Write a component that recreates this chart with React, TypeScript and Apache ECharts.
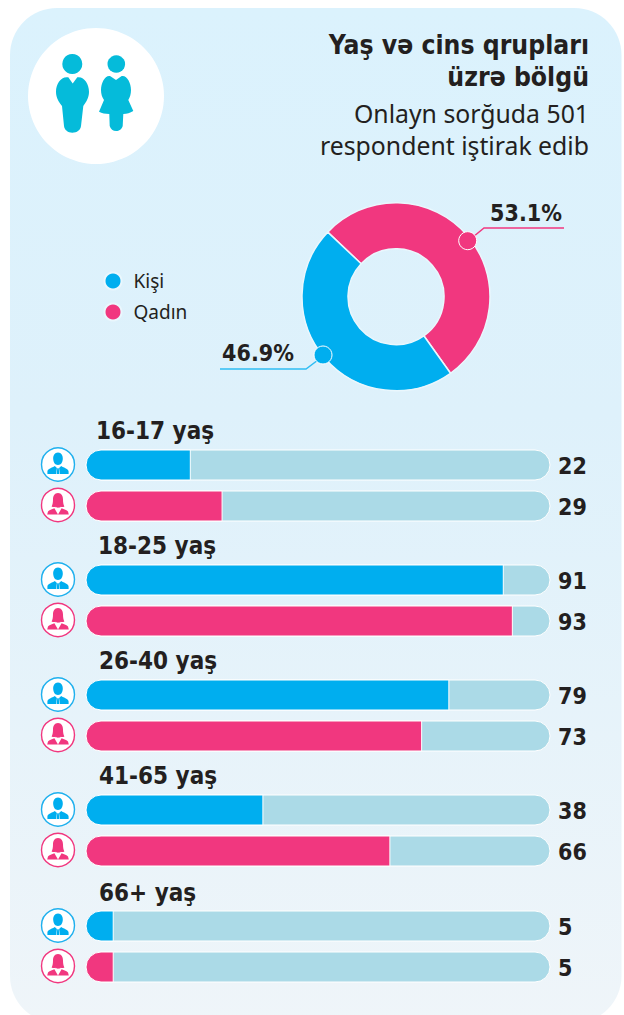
import React, { useEffect, useRef } from "react";
import * as echarts from "echarts";

const BLUE = "#00AEEF";
const PINK = "#F1377F";
const TRACK = "#ABDAE7";
const INK = "#231F20";
const FONT = "'Noto Sans', sans-serif";
const BOLD = "'DejaVu Sans Condensed', 'DejaVu Sans', sans-serif";

const titleLines = ["Yaş və cins qrupları", "üzrə bölgü"];
const subtitleLines = ["Onlayn sorğuda 501", "respondent iştirak edib"];
const genders = ["Kişi", "Qadın"];
const genderShares = [46.9, 53.1];
const ageGroups = ["16-17 yaş", "18-25 yaş", "26-40 yaş", "41-65 yaş", "66+ yaş"];
const maleCounts = [22, 91, 79, 38, 5];
const femaleCounts = [29, 93, 73, 66, 5];
const AXIS_MIN = -1;
const AXIS_MAX = 101.3;

echarts.graphic.registerShape("bigMan", echarts.graphic.extendPath("M68.3 77.3 L72.7 83.5 L77.3 77.3 C84 76 89 84 89 91.7 C89 98 86 102 83.3 106 L81 126 C80.5 130 77 132.7 72.3 132.7 C68 132.7 64.5 130 64 126 L62 106 C59 102 56 98 56 91.7 C56 84 61 76 68.3 77.3 Z", {}));
echarts.graphic.registerShape("bigWoman", echarts.graphic.extendPath("M110 76 L116 80 L121.7 76 C127 75 131 83 131 90 C131 94 130 97 128.3 100 L133.3 111 C130 113 127 114 123.3 114 L122.7 126 C122 129 119 131 116.3 131 C113 131 110.5 129 109.7 126 L109.3 114 C105 114 102 113 99 111.7 L104 100 C102 97 101 94 101 90 C101 83 105 75 110 76 Z", {}));
echarts.graphic.registerShape("miniMan", echarts.graphic.extendPath("M0 -12 C3.4 -12 5 -9 4.8 -5.5 C4.6 -2.5 3.2 0.5 0 0.5 C-3.2 0.5 -4.6 -2.5 -4.8 -5.5 C-5 -9 -3.4 -12 0 -12 Z M-3.2 1.6 L-1.1 3.4 L-1.8 9.5 L-10.6 9.5 L-10.6 7 C-10.4 4.2 -6 3.6 -3.2 1.6 Z M3.2 1.6 L1.1 3.4 L1.8 9.5 L10.6 9.5 L10.6 7 C10.4 4.2 6 3.6 3.2 1.6 Z M-0.8 3.8 L0.8 3.8 L1.2 9.5 L-1.2 9.5 Z", {}));
echarts.graphic.registerShape("miniWoman", echarts.graphic.extendPath("M0 -12 C3.6 -12 5 -9 5 -5.5 C5 -2 5.6 0 6.4 1.5 C5 2.2 3.8 2.2 2.8 1.8 C2 3 -2 3 -2.8 1.8 C-3.8 2.2 -5 2.2 -6.4 1.5 C-5.6 0 -5 -2 -5 -5.5 C-5 -9 -3.6 -12 0 -12 Z M-3.6 3.2 L0 9.5 L-10.8 9.5 L-10 6.6 C-9 4.6 -6 4.4 -3.6 3.2 Z M3.6 3.2 L0 9.5 L10.8 9.5 L10 6.6 C9 4.6 6 4.4 3.6 3.2 Z", {}));

const rowCentres = [465, 580, 695, 810, 926];
const titleYs = [431, 546, 661, 776, 893];
const titleXs = [96, 98, 99, 99, 99];

function pill(api: any, fill: string, r: any, label?: string) {
  const from = api.coord([AXIS_MIN, api.value(1)]);
  const to = api.coord([api.value(0), api.value(1)]);
  const h = 30;
  const children: any[] = [
    {
      type: "rect",
      shape: { x: from[0], y: from[1] - h / 2, width: to[0] - from[0], height: h, r },
      style: { fill, stroke: "#fff", lineWidth: 1 },
    },
  ];
  if (label) {
    children.push({
      type: "text",
      x: to[0] + 8,
      y: to[1] + 0.5,
      style: { text: label, fill: INK, font: `bold 23px ${BOLD}`, textAlign: "left", textVerticalAlign: "middle" },
    });
  }
  return { type: "group", children };
}

export default function App() {
  const ref = useRef<HTMLDivElement>(null);
  useEffect(() => {
    document.body.style.margin = "0";
    const chart = echarts.init(ref.current!, undefined, { renderer: "svg" });

    const grids: any[] = [];
    const xAxes: any[] = [];
    const yAxes: any[] = [];
    const series: any[] = [];
    const graphics: any[] = [];

    graphics.push({
      type: "rect",
      z: -10,
      shape: { x: 10, y: 8, width: 611.5, height: 1015, r: 47 },
      style: {
        fill: new echarts.graphic.LinearGradient(0, 0, 0, 1, [
          { offset: 0, color: "#DBF2FD" },
          { offset: 0.4, color: "#DEF1FB" },
          { offset: 1, color: "#EFF5F9" },
        ]),
      },
    });
    graphics.push({ type: "circle", z: 1, shape: { cx: 96, cy: 96, r: 68 }, style: { fill: "#fff" } });
    graphics.push({ type: "circle", z: 2, shape: { cx: 72.3, cy: 64, r: 10 }, style: { fill: "#05BBDA" } });
    graphics.push({ type: "circle", z: 2, shape: { cx: 116.3, cy: 64, r: 8.8 }, style: { fill: "#05BBDA" } });
    graphics.push({ type: "bigMan", z: 2, x: 0, y: 0, style: { fill: "#05BBDA" } });
    graphics.push({ type: "bigWoman", z: 2, x: 0, y: 0, style: { fill: "#05BBDA" } });

    titleLines.forEach((t, i) => {
      graphics.push({
        type: "text", z: 5, x: 589, y: 45 + i * 32,
        style: { text: t, fill: INK, font: `bold 26.3px ${BOLD}`, textAlign: "right", textVerticalAlign: "middle" },
      });
    });
    subtitleLines.forEach((t, i) => {
      graphics.push({
        type: "text", z: 5, x: 589, y: 113 + i * 32,
        style: { text: t, fill: INK, font: `24.8px ${FONT}`, textAlign: "right", textVerticalAlign: "middle" },
      });
    });

    graphics.push({ type: "polyline", z: 5, shape: { points: [[473, 237], [484, 228], [564, 228]] }, style: { stroke: PINK, lineWidth: 1.5, fill: "none" } });
    graphics.push({ type: "circle", z: 6, shape: { cx: 467.7, cy: 240.7, r: 9 }, style: { fill: PINK, stroke: "#fff", lineWidth: 1 } });
    graphics.push({ type: "polyline", z: 5, shape: { points: [[318, 360], [306, 369], [220, 369]] }, style: { stroke: "#2FBDF3", lineWidth: 1.5, fill: "none" } });
    graphics.push({ type: "circle", z: 6, shape: { cx: 323, cy: 355, r: 9 }, style: { fill: BLUE, stroke: "#fff", lineWidth: 1 } });
    graphics.push({ type: "text", z: 6, x: 526, y: 213, style: { text: `${genderShares[1]}%`, fill: INK, font: `bold 23px ${BOLD}`, textAlign: "center", textVerticalAlign: "middle" } });
    graphics.push({ type: "text", z: 6, x: 258, y: 353, style: { text: `${genderShares[0]}%`, fill: INK, font: `bold 23px ${BOLD}`, textAlign: "center", textVerticalAlign: "middle" } });

    ageGroups.forEach((g, i) => {
      const c = rowCentres[i];
      grids.push({ left: 86, width: 464, top: c - 20.5, height: 82 });
      xAxes.push({ gridIndex: i, type: "value", min: AXIS_MIN, max: AXIS_MAX, show: false });
      yAxes.push({ gridIndex: i, type: "category", inverse: true, data: genders, show: false });
      const vals = [maleCounts[i], femaleCounts[i]];
      series.push({
        type: "custom", xAxisIndex: i, yAxisIndex: i, z: 2, silent: true, clip: false,
        encode: { x: 0, y: 1 },
        data: vals.map((_, k) => [AXIS_MAX, k]),
        renderItem: (params: any, api: any) => pill(api, TRACK, 15, String(vals[params.dataIndex])),
      });
      series.push({
        type: "custom", xAxisIndex: i, yAxisIndex: i, z: 3, silent: true, clip: false,
        encode: { x: 0, y: 1 },
        data: vals.map((v, k) => [v, k]),
        renderItem: (params: any, api: any) =>
          pill(api, params.dataIndex === 0 ? BLUE : PINK, [15, 0, 0, 15]),
      });
      graphics.push({
        type: "text", z: 5, x: titleXs[i], y: titleYs[i],
        style: { text: g, fill: INK, font: `bold 24px ${BOLD}`, textAlign: "left", textVerticalAlign: "middle" },
      });
      [0, 1].forEach((k) => {
        const cy = c + k * 40.5 - 0.5;
        const col = k === 0 ? BLUE : PINK;
        graphics.push({ type: "circle", z: 5, shape: { cx: 58, cy, r: 16.5 }, style: { fill: "#fff", stroke: k === 0 ? "#1EB0EE" : PINK, lineWidth: 1.4 } });
        graphics.push({ type: k === 0 ? "miniMan" : "miniWoman", z: 6, x: 58, y: cy, style: { fill: col } });
      });
    });

    series.push({
      type: "pie",
      center: [396, 296.7],
      radius: [48, 94],
      startAngle: 136.6,
      clockwise: true,
      label: { show: false },
      labelLine: { show: false },
      silent: true,
      itemStyle: { borderColor: "#EAF7FD", borderWidth: 1.5 },
      data: [
        { name: genders[1], value: genderShares[1], itemStyle: { color: PINK } },
        { name: genders[0], value: genderShares[0], itemStyle: { color: BLUE } },
      ],
    });

    chart.setOption({
      animation: false,
      grid: grids,
      xAxis: xAxes,
      yAxis: yAxes,
      series,
      legend: {
        show: true, orient: "vertical", left: 98.5, top: 266.5,
        data: genders, icon: "circle", itemWidth: 17, itemHeight: 17, itemGap: 12, selectedMode: false,
        textStyle: { color: INK, fontFamily: FONT, fontSize: 19, padding: [0, 0, 0, 7] },
      },
      graphic: { elements: graphics },
    });
    return () => chart.dispose();
  }, []);
  return <div ref={ref} style={{ width: 624, height: 1015 }} />;
}
